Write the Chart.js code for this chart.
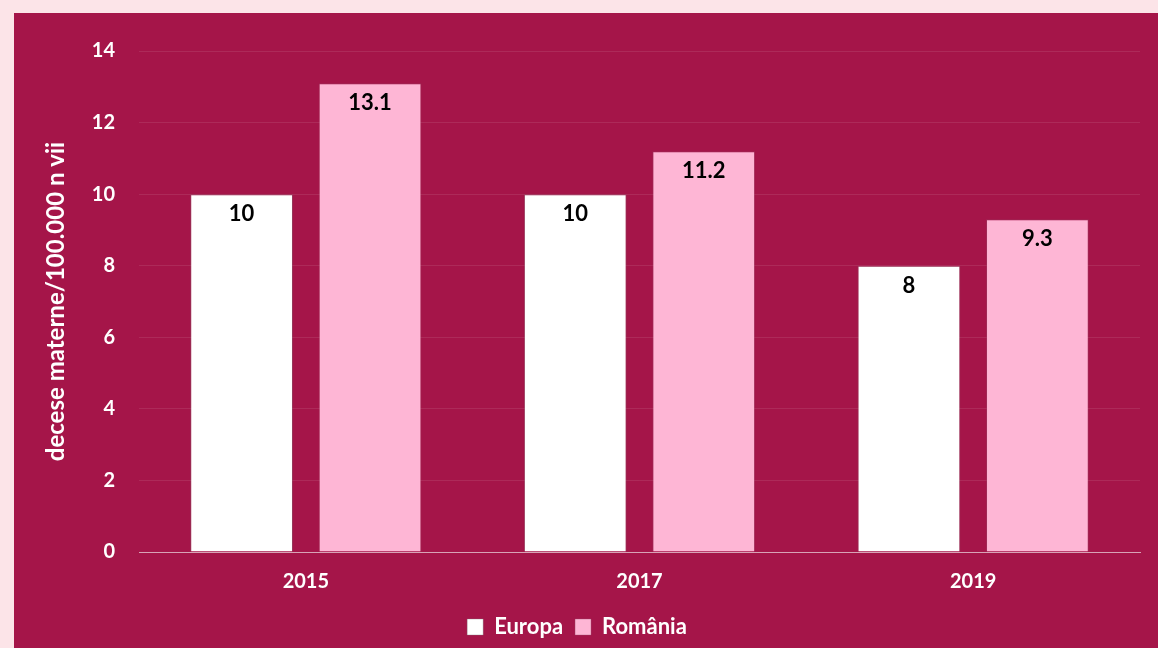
<!DOCTYPE html>
<html>
<head>
<meta charset="utf-8">
<script src="https://cdn.jsdelivr.net/npm/chart.js@4/dist/chart.umd.min.js"></script>
<style>
  html, body { margin: 0; padding: 0; background: #fce4e8; }
  #panel {
    position: absolute;
    left: 14px;
    top: 13px;
    width: 1144px;
    height: 635px;
    background: #a51549;
  }
</style>
</head>
<body>
<div id="panel"><canvas id="chart" width="1144" height="635"></canvas></div>
<script>
  const years = ["2015", "2017", "2019"];
  const europa = [10, 10, 8];
  const romania = [13.1, 11.2, 9.3];
  const yTicks = [0, 2, 4, 6, 8, 10, 12, 14];

  const fontFamily = "Lato, 'Open Sans', sans-serif";

  // draw the value inside each bar, near its top
  const barLabels = {
    id: "barLabels",
    afterDatasetsDraw(chart) {
      const ctx = chart.ctx;
      ctx.save();
      ctx.font = "bold 22px " + fontFamily;
      ctx.fillStyle = "#000000";
      ctx.textAlign = "center";
      ctx.textBaseline = "middle";
      chart.data.datasets.forEach((ds, i) => {
        chart.getDatasetMeta(i).data.forEach((bar, j) => {
          ctx.fillText(String(ds.data[j]), bar.x, bar.y + 20);
        });
      });
      ctx.restore();
    },
  };

  new Chart(document.getElementById("chart"), {
    type: "bar",
    data: {
      labels: years,
      datasets: [
        {
          label: "Europa",
          data: europa,
          backgroundColor: "#ffffff",
          borderColor: "rgba(120,120,120,0.35)",
          borderWidth: 1,
          categoryPercentage: 0.77,
          barPercentage: 0.8,
        },
        {
          label: "România",
          data: romania,
          backgroundColor: "#feb6d5",
          borderColor: "rgba(150,80,110,0.35)",
          borderWidth: 1,
          categoryPercentage: 0.77,
          barPercentage: 0.8,
        },
      ],
    },
    options: {
      responsive: false,
      animation: false,
      layout: { padding: { top: 38, right: 18, left: 0, bottom: 0 } },
      plugins: {
        legend: {
          position: "bottom",
          labels: {
            color: "#ffffff",
            boxWidth: 16,
            boxHeight: 16,
            padding: 12,
            font: { family: fontFamily, size: 22, weight: "bold" },
          },
        },
        tooltip: { enabled: false },
      },
      scales: {
        x: {
          grid: { display: false },
          border: { color: "#d8a3b6", width: 1 },
          ticks: {
            color: "#ffffff",
            padding: 10,
            font: { family: fontFamily, size: 20, weight: "bold" },
          },
        },
        y: {
          min: 0,
          max: 14,
          afterFit(scale) {
            scale.width = 125;
          },
          afterBuildTicks(scale) {
            scale.ticks = yTicks.map((v) => ({ value: v }));
          },
          border: { display: false },
          grid: {
            drawTicks: false,
            color: (c) => (c.index === 0 ? "#d8a3b6" : "rgba(255,255,255,0.09)"),
          },
          ticks: {
            color: "#ffffff",
            padding: 24,
            font: { family: fontFamily, size: 20, weight: "bold" },
          },
          title: {
            display: true,
            text: "decese materne/100.000 n vii",
            color: "#ffffff",
            padding: { top: 28, bottom: 0 },
            font: { family: fontFamily, size: 24, weight: "bold" },
          },
        },
      },
    },
    plugins: [barLabels],
  });
</script>
</body>
</html>
